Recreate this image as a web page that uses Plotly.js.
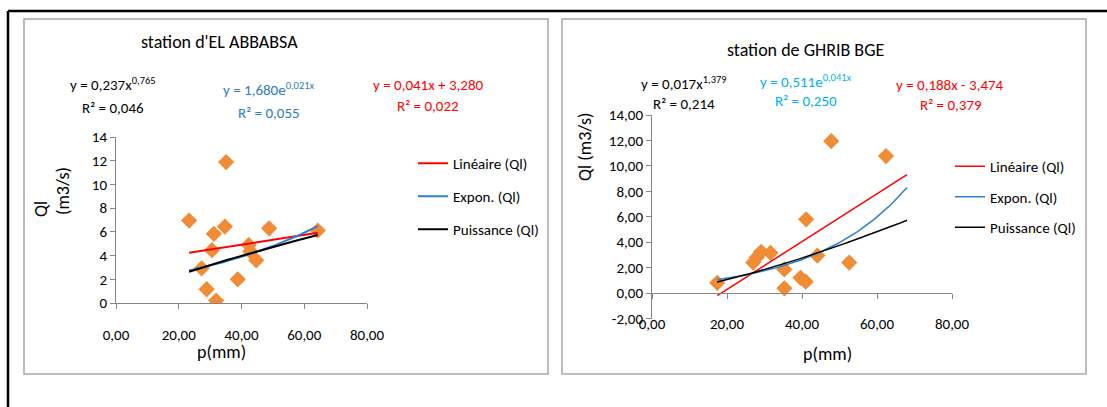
<!DOCTYPE html>
<html><head><meta charset="utf-8">
<script src="https://cdn.plot.ly/plotly-3.0.1.min.js"></script>
<style>html,body{margin:0;padding:0;background:#fff;overflow:hidden}#chart{width:1107px;height:407px}</style>
</head><body><div id="chart"></div>
<script>
// ---------- data ----------
const elP = [23.3, 27.3, 28.9, 30.6, 31.2, 31.9, 34.7, 35.1, 38.8, 42.3, 42.8, 44.7, 48.8, 64.3];
const elQ = [6.95, 2.93, 1.16, 4.45, 5.83, 0.20, 6.45, 11.89, 2.00, 4.90, 4.35, 3.60, 6.30, 6.11];
const ghP = [17.4, 27.0, 27.9, 29.1, 31.6, 35.3, 35.3, 39.6, 41.0, 41.1, 44.1, 47.8, 52.6, 62.4];
const ghQ = [0.81, 2.40, 2.80, 3.24, 3.16, 1.86, 0.37, 1.20, 0.89, 5.80, 2.95, 11.95, 2.40, 10.77];

const xTickVals = [0, 20, 40, 60, 80];
const xTickText = ['0,00', '20,00', '40,00', '60,00', '80,00'];
const elYTickVals = [0, 2, 4, 6, 8, 10, 12, 14];
const elYTickText = ['0', '2', '4', '6', '8', '10', '12', '14'];
const ghYTickVals = [-2, 0, 2, 4, 6, 8, 10, 12, 14];
const ghYTickText = ['-2,00', '0,00', '2,00', '4,00', '6,00', '8,00', '10,00', '12,00', '14,00'];

// trendline coefficients (as displayed on the chart)
const elLin = [0.041, 3.280], elExp = [1.680, 0.021], elPow = [0.237, 0.765], elRange = [23.3, 64.3];
const ghLin = [0.188, -3.474], ghExp = [0.511, 0.041], ghPow = [0.017, 1.379], ghRange = [17.4, 68.0];

const trendNames = ['Linéaire (Ql)', 'Expon. (Ql)', 'Puissance (Ql)'];
const titles = ["station d'EL ABBABSA", 'station de GHRIB BGE'];
const elEq = ['y = 0,237x<sup>0,765</sup>', 'R² = 0,046', 'y = 1,680e<sup>0,021x</sup>', 'R² = 0,055', 'y = 0,041x + 3,280', 'R² = 0,022'];
const ghEq = ['y = 0,017x<sup>1,379</sup>', 'R² = 0,214', 'y = 0,511e<sup>0,041x</sup>', 'R² = 0,250', 'y = 0,188x - 3,474', 'R² = 0,379'];

// ---------- helpers ----------
const W = 1107, H = 407;
const px = v => v / W, py = v => 1 - v / H;
const F = "'Liberation Sans Narrow', 'Arial Narrow', Carlito, Calibri, 'Open Sans', sans-serif";
const RED = '#FF0000', BLUE = '#2F80CC', BLK = '#000000', ORANGE = '#F08C36', AX = '#868686';

function sample(range, f) {
  const xs = [], ys = [], n = 80;
  for (let i = 0; i <= n; i++) { const x = range[0] + (range[1] - range[0]) * i / n; xs.push(x); ys.push(f(x)); }
  return {xs, ys};
}
function trends(range, lin, ex, pw, xa, ya, leg, w) {
  const fs = [x => lin[0] * x + lin[1], x => ex[0] * Math.exp(ex[1] * x), x => pw[0] * Math.pow(x, pw[1])];
  const cols = [RED, BLUE, BLK];
  return fs.map((f, i) => {
    const s = sample(range, f);
    return {x: s.xs, y: s.ys, xaxis: xa, yaxis: ya, mode: 'lines', name: trendNames[i],
      line: {color: cols[i], width: w}, legend: leg, legendgroup: leg + i, hoverinfo: 'skip'};
  });
}

const traces = [
  {x: elP, y: elQ, xaxis: 'x', yaxis: 'y', mode: 'markers', showlegend: false,
   marker: {symbol: 'diamond', size: 12.5, color: ORANGE}},
  ...trends(elRange, elLin, elExp, elPow, 'x', 'y', 'legend', 2),
  {x: ghP, y: ghQ, xaxis: 'x2', yaxis: 'y2', mode: 'markers', showlegend: false,
   marker: {symbol: 'diamond', size: 12.5, color: ORANGE}},
  ...trends(ghRange, ghLin, ghExp, ghPow, 'x2', 'y2', 'legend2', 1.5),
  {x: [0], y: [-100], xaxis: 'x3', yaxis: 'y', mode: 'markers', showlegend: false, marker: {opacity: 0}, hoverinfo: 'skip'},
  {x: [0], y: [-100], xaxis: 'x4', yaxis: 'y2', mode: 'markers', showlegend: false, marker: {opacity: 0}, hoverinfo: 'skip'}
];

const tickFont = {family: F, size: 15, color: '#000'};
const baseAx = {showgrid: false, zeroline: false, showline: true, linecolor: AX, linewidth: 1,
  ticks: 'outside', ticklen: 5, tickcolor: AX, tickwidth: 1, tickfont: tickFont, fixedrange: true};

const elDom = [px(116), px(367)], elYDom = [py(303), py(137)];
const ghDom = [px(652), px(952)], ghYDom = [py(318.5), py(115)];
const ghZeroPos = ghYDom[0] + (0 - (-2)) / 16 * (ghYDom[1] - ghYDom[0]);

const layout = {
  width: W, height: H, margin: {l: 0, r: 0, t: 0, b: 0}, paper_bgcolor: '#fff', plot_bgcolor: 'rgba(0,0,0,0)',
  showlegend: true, font: {family: F, color: '#000'},
  xaxis: {...baseAx, domain: elDom, range: [0, 80], anchor: 'y', tickvals: xTickVals, showticklabels: false},
  xaxis3: {...baseAx, overlaying: 'x', domain: elDom, range: [0, 80], anchor: 'free', position: py(324),
    showline: false, ticks: '', tickvals: xTickVals, ticktext: xTickText},
  yaxis: {...baseAx, domain: elYDom, range: [0, 14], anchor: 'x', tickvals: elYTickVals, ticktext: elYTickText},
  xaxis2: {...baseAx, domain: ghDom, range: [0, 80], anchor: 'free', position: ghZeroPos, tickvals: xTickVals, showticklabels: false},
  xaxis4: {...baseAx, overlaying: 'x2', domain: ghDom, range: [0, 80], anchor: 'free', position: py(313),
    showline: false, ticks: '', tickvals: xTickVals, ticktext: xTickText},
  yaxis2: {...baseAx, domain: ghYDom, range: [-2, 14], anchor: 'x2', tickvals: ghYTickVals, ticktext: ghYTickText},
  legend: {x: px(413), xanchor: 'left', y: py(147), yanchor: 'top', font: {family: F, size: 15, color: '#000'},
    bgcolor: 'rgba(0,0,0,0)', tracegroupgap: 10.5, borderwidth: 0},
  legend2: {x: px(950), xanchor: 'left', y: py(150), yanchor: 'top', font: {family: F, size: 15, color: '#000'},
    bgcolor: 'rgba(0,0,0,0)', tracegroupgap: 8, borderwidth: 0},
  shapes: [
    {type: 'line', xref: 'paper', yref: 'paper', x0: px(8), x1: 1, y0: py(11), y1: py(11), line: {color: '#000', width: 2.5}},
    {type: 'line', xref: 'paper', yref: 'paper', x0: px(8), x1: px(8), y0: py(11), y1: 0, line: {color: '#000', width: 2.5}},
    {type: 'rect', xref: 'paper', yref: 'paper', x0: px(24), x1: px(548), y0: py(374), y1: py(19), line: {color: '#A6A6A6', width: 1.5}},
    {type: 'rect', xref: 'paper', yref: 'paper', x0: px(562), x1: px(1086), y0: py(374), y1: py(19), line: {color: '#A6A6A6', width: 1.5}}
  ],
  annotations: []
};

function ann(text, x, y, size, color, extra) {
  layout.annotations.push(Object.assign({text, x: px(x), y: py(y), xref: 'paper', yref: 'paper',
    xanchor: 'center', yanchor: 'middle', showarrow: false, font: {family: F, size, color}}, extra || {}));
}
// titles
ann(titles[0], 219, 42, 18, '#000');
ann(titles[1], 806, 50, 18, '#000');
// equations left
ann(elEq[0], 113, 84, 15, BLK); ann(elEq[1], 113, 108, 15, BLK);
ann(elEq[2], 269, 89, 15, '#2C7BC4'); ann(elEq[3], 269, 113, 15, '#2C7BC4');
ann(elEq[4], 428, 85, 15, RED); ann(elEq[5], 428, 106, 15, RED);
// equations right
ann(ghEq[0], 684, 83, 15, BLK); ann(ghEq[1], 684, 104, 15, BLK);
ann(ghEq[2], 806, 81, 15, '#00B0F0'); ann(ghEq[3], 806, 101, 15, '#00B0F0');
ann(ghEq[4], 950, 85, 15, RED); ann(ghEq[5], 951, 105, 15, RED);
// axis titles
ann('Ql', 41, 209, 18, '#000', {textangle: -90});
ann('(m3/s)', 63, 191, 18, '#000', {textangle: -90});
ann('p(mm)', 221, 352, 18, '#000');
ann('Ql (m3/s)', 585, 147, 18, '#000', {textangle: -90});
ann('p(mm)', 827, 354, 18, '#000');

Plotly.newPlot('chart', traces, layout, {staticPlot: true, displayModeBar: false});
</script></body></html>
